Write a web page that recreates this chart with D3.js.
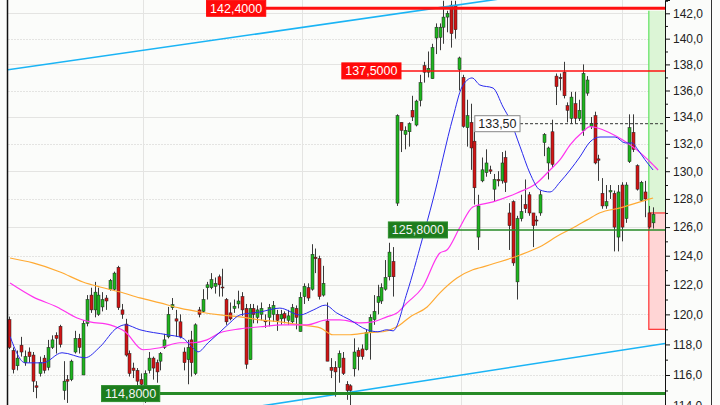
<!DOCTYPE html>
<html><head><meta charset="utf-8">
<script src="https://cdn.jsdelivr.net/npm/d3@7"></script>
<style>html,body{margin:0;padding:0;background:#fbfcfa;} svg{display:block;}</style>
</head><body><svg id="c" width="720" height="405"></svg>
<script>
// ---- data (price values) ----
const opens = [119.65,117.6,116.6,117.95,116.8,117.5,117.3,115.3,116.1,117.1,116.5,117.8,118.6,119.2,115.0,115.7,115.7,117.5,118.4,116.0,119.4,121.3,120.3,120.0,120.5,121.1,121.7,121.7,123.2,120.3,119.35,117.4,116.45,116.3,115.7,115.3,116.3,117.1,116.8,116.9,117.8,118.5,120.45,119.7,119.5,117.5,117.0,118.3,116.1,120.3,120.2,121.8,121.8,121.9,122.55,121.85,121.0,120.1,120.4,120.7,
121.2,120.4,117.0,120.4,119.8,120.0,119.6,119.8,120.0,120.0,119.7,120.05,119.6,119.5,120.4,118.85,121.2,121.8,121.7,123.9,123.8,121.3,119.55,116.5,116.5,116.5,117.1,115.4,115.3,116.4,117.6,117.7,117.65,118.8,119.65,120.8,120.9,121.7,122.55,123.6,
127.7,133.6,132.7,132.9,134.5,133.4,135.25,137.9,137.4,136.9,140.05,140.1,140.9,141.7,142.65,142.65,137.6,
137.0,133.2,133.6,132.2,125.3,
129.3,129.9,130.1,128.7,129.4,129.3,131.0,127.0,127.8,122.2,126.6,127.6,128.3,127.0,126.5,127.0,
132.1,130.6,132.9,137.1,137.0,137.4,134.85,133.9,135.0,133.9,133.0,135.8,133.3,134.1,130.9,128.4,127.5,128.5,128.4,125.3,129.0,126.6,130.7,132.85,130.4,127.9,128.5,127.0,126.3];
const highs = [119.85,117.8,117.6,118.5,117.6,117.8,117.5,115.6,117.2,117.3,118.3,118.6,118.8,119.3,116.9,116.0,117.0,118.9,118.7,119.6,121.3,121.8,122.2,121.8,121.5,121.3,122.4,122.9,123.3,120.7,119.7,117.6,116.8,116.45,116.1,116.3,117.5,117.2,117.0,117.5,118.7,120.5,121.1,120.3,120.0,117.8,118.3,118.9,119.4,120.5,121.7,122.2,122.8,122.5,122.7,123.1,121.1,120.8,121.0,121.6,
121.5,120.7,120.7,120.7,120.6,120.8,120.0,120.7,120.9,120.3,120.3,120.2,120.3,120.7,120.6,121.5,122.1,122.1,124.8,124.5,124.0,123.3,120.8,117.1,116.9,117.6,117.5,115.6,115.4,118.4,117.8,118.0,119.0,120.0,121.3,122.0,122.1,123.7,124.9,124.6,
134.2,133.6,133.3,133.6,135.6,135.3,137.2,138.2,139.0,139.6,141.2,141.2,143.0,142.2,143.0,143.0,138.6,
137.2,135.3,135.0,132.9,128.3,
131.0,131.6,130.4,129.8,130.0,131.4,131.5,127.7,127.9,126.8,128.3,129.4,128.5,127.0,126.8,128.6,
132.8,131.8,133.8,137.3,137.3,138.2,135.1,135.9,135.9,135.3,138.0,137.1,134.0,134.4,131.2,129.5,129.0,129.0,128.6,129.0,129.2,129.2,134.2,134.2,130.5,129.3,129.3,127.5,127.4];
const lows = [117.7,116.1,116.3,117.2,116.6,116.8,114.9,114.5,115.9,116.1,116.3,117.7,117.4,117.8,114.4,114.2,115.6,117.4,117.4,116.0,119.2,120.1,119.8,119.9,120.2,120.3,121.6,121.6,120.3,119.7,117.2,115.9,115.8,115.0,115.3,114.2,116.1,115.7,115.5,116.3,117.7,118.4,120.3,118.5,118.4,116.3,115.4,115.9,116.0,119.8,120.1,121.0,121.7,121.4,121.2,121.2,119.3,119.6,120.1,120.4,
119.9,116.4,117.0,119.4,119.4,119.6,119.1,119.2,119.5,118.9,119.3,119.4,119.3,119.4,119.0,118.85,120.7,120.9,121.6,122.8,121.0,121.2,116.9,115.8,114.6,115.5,116.0,114.4,114.0,115.9,116.3,117.0,117.6,117.0,119.3,120.0,120.7,121.6,122.3,121.2,
127.5,131.4,131.6,131.8,133.7,133.3,134.8,136.6,137.0,136.9,138.8,139.1,139.6,140.5,139.3,140.0,136.0,
133.2,131.8,130.1,127.6,124.4,
129.2,129.6,129.8,127.8,128.9,129.1,128.5,124.4,123.3,121.0,126.4,127.0,126.8,124.6,126.1,126.8,
131.1,129.4,130.3,134.9,136.0,135.4,133.6,133.5,133.5,133.7,132.6,135.6,133.1,130.5,129.3,127.3,127.3,128.0,124.3,124.3,125.0,126.3,130.6,131.4,128.6,127.8,126.7,125.9,125.9];
const closes = [117.8,116.35,117.1,117.5,117.2,117.2,115.6,115.2,116.8,116.3,117.8,118.3,118.4,118.0,115.6,115.6,116.9,118.4,117.8,119.4,121.0,120.3,121.5,121.3,121.0,120.9,122.3,122.8,120.45,120.0,117.3,116.1,116.3,115.6,115.4,116.1,117.1,116.45,116.2,117.4,118.3,120.0,120.65,119.55,118.5,116.8,117.8,116.8,119.3,120.0,121.0,122.0,122.35,122.1,122.0,121.8,119.5,119.7,120.55,120.9,
120.3,116.7,120.4,120.0,120.3,120.4,119.5,120.45,120.6,119.6,120.0,119.75,119.9,120.45,119.8,121.15,121.9,121.1,124.1,123.8,121.2,122.1,116.9,116.3,116.2,117.4,116.1,115.0,115.0,117.5,117.2,117.2,118.8,119.8,120.2,121.2,121.8,122.5,124.25,122.55,
134.1,133.0,133.0,133.5,134.0,135.2,136.6,137.4,137.7,139.3,140.9,140.9,141.7,142.0,140.4,140.7,138.5,
133.3,134.1,131.7,128.8,127.5,
130.1,130.6,130.0,129.4,129.3,130.6,129.2,126.1,123.5,126.6,127.1,127.3,127.0,126.1,126.45,128.3,
132.7,131.7,130.5,136.3,136.9,135.6,134.5,135.5,133.9,134.5,137.3,136.8,133.5,130.6,130.8,127.5,127.8,128.6,126.0,128.5,126.0,129.0,133.2,131.6,128.7,129.2,128.0,126.0,126.9];

// moving averages: [bar index, value]
const maFast = [[0.2,118.52],[4.1,116.79],[8.7,116.79],[13.6,117.45],[19.5,117.12],[23.4,117.84],[27.8,119.10],[29.9,119.30],[33.7,118.97],[40.7,118.64],[44.6,118.44],[47.1,117.84],[48.7,117.51],[51.3,118.11],[54.4,118.83],[56.9,119.43],[59.5,119.96],[64.7,120.16],[69.8,120.42],[75.0,119.96],[78.4,120.29],[81.5,120.62],[84.5,120.09],[87.9,119.63],[92.3,118.97],[95.1,118.84],[97.4,118.97],[99.0,118.90],[102.6,121.45],[106.5,125.10],[109.3,127.93],[114.5,134.0],[116.8,136.27],[119.4,136.96],[121.4,136.42],[124.8,136.19],[127.4,134.75],[129.2,133.78],[131.8,131.78],[134.3,129.87],[136.9,128.65],[139.5,128.5],[142.1,129.22],[144.7,130.09],[147.2,131.04],[149.8,132.14],[152.4,132.51],[156.3,132.51],[158.9,132.07],[160.7,132.07],[162.2,131.56],[164.0,130.84],[166.1,130.09]];
const maMid = [[0.2,122.12],[6.1,121.18],[12.3,120.50],[17.5,119.76],[20.8,119.50],[26.0,119.30],[29.9,118.84],[34.5,117.65],[38.9,117.78],[44.0,118.11],[47.4,118.11],[51.0,118.30],[54.4,118.77],[59.5,119.03],[64.7,119.17],[70.6,119.30],[76.8,119.30],[82.0,119.63],[85.3,119.63],[90.5,119.43],[93.8,119.50],[97.4,119.83],[100.0,120.09],[102.6,120.77],[106.5,121.78],[111.1,124.19],[112.9,124.40],[116.3,126.01],[119.6,127.43],[124.8,127.79],[131.0,128.43],[136.1,129.15],[139.5,130.09],[142.1,130.84],[144.7,131.93],[148.0,132.90],[149.8,133.28],[151.6,133.20],[155.0,132.81],[158.3,132.29],[161.9,131.56],[165.3,130.69],[167.4,130.09]];
const maSlow = [[0.2,123.84],[6.1,123.5],[13.1,122.88],[19.0,122.19],[23.4,121.85],[28.6,121.51],[33.7,121.11],[38.9,120.77],[44.0,120.42],[49.2,120.16],[54.4,119.96],[59.5,119.83],[64.7,119.63],[69.8,119.50],[75.0,119.30],[80.2,119.10],[83.5,118.64],[87.9,118.64],[92.3,118.77],[96.4,118.84],[100.0,119.17],[103.4,119.83],[107.8,120.50],[111.1,121.45],[115.5,122.46],[119.6,123.03],[121.4,123.17],[126.6,123.58],[131.8,124.05],[136.9,124.62],[142.1,125.48],[145.4,125.94],[149.1,126.51],[152.4,127.01],[157.6,127.36],[161.9,127.72],[166.1,128.07]];

const resistanceLevels = [142.4, 137.5];
const supportLevels = [125.8, 114.8];
const markerLevel = 133.5;
const trendUpper = [[0,137.6],[121,142.9]];
const trendLower = [[70,114.2],[160,117.7]];
const tradeEntry = 127.0, tradeTarget = 142.2, tradeStop = 119.0, tradeStartBar = 165.0;
const gridBars = [34.4, 75.5, 116.5, 158.1];
const axisMajorTicks = [114,116,118,120,122,124,126,128,130,132,134,136,138,140,142];
const axisMinorTicks = [115,117,119,121,123,125,127,129,131,133,135,137,139,141,143];

// ---- drawing ----
const W = 720, H = 405, L = 8, R = 665, T = 0, B = 405;
const svg = d3.select('#c');
const x = d3.scaleLinear().domain([0, closes.length - 1]).range([9.3, 652.7]);
const y = d3.scaleLog().domain([114.07, 143.06]).range([B, T]);
const loc = d3.formatLocale({decimal: ',', thousands: '.', grouping: [3], currency: ['', '']});
const f1 = loc.format('.1f'), f2 = loc.format('.2f'), f4 = loc.format('.4f');

svg.append('rect').attr('width', W).attr('height', H).attr('fill', '#fbfcfa');
svg.append('defs').append('clipPath').attr('id', 'plot')
  .append('rect').attr('x', L).attr('y', T).attr('width', R - L).attr('height', B - T);

const plot = svg.append('g').attr('clip-path', 'url(#plot)');

// grid
plot.selectAll('.hg').data(axisMajorTicks).join('line')
  .attr('x1', L).attr('x2', R)
  .attr('y1', d => Math.round(y(d)) + 0.5).attr('y2', d => Math.round(y(d)) + 0.5)
  .attr('stroke', '#e4e4e2').attr('stroke-width', 1)
  .attr('stroke-dasharray', d => (d % 4 === 2) ? null : '2,1');
plot.selectAll('.vg').data(gridBars).join('line')
  .attr('x1', d => Math.round(x(d)) + 0.5).attr('x2', d => Math.round(x(d)) + 0.5)
  .attr('y1', T).attr('y2', B).attr('stroke', '#e4e4e2');

// trade box
const bx0 = x(tradeStartBar);
plot.append('rect').attr('x', bx0).attr('y', y(tradeTarget)).attr('width', R - bx0)
  .attr('height', y(tradeEntry) - y(tradeTarget)).attr('fill', '#dcf5d6');
plot.append('line').attr('x1', bx0).attr('x2', bx0).attr('y1', y(tradeTarget)).attr('y2', y(tradeEntry))
  .attr('stroke', '#5ee35e').attr('stroke-width', 1.2);
plot.append('rect').attr('x', bx0).attr('y', y(tradeEntry)).attr('width', R - bx0 + 2)
  .attr('height', y(tradeStop) - y(tradeEntry)).attr('fill', '#ffd5d5')
  .attr('stroke', '#ff3030').attr('stroke-width', 1.2);

// candles
const bars = plot.append('g');
closes.forEach((c, i) => {
  const o = opens[i], h = highs[i], l = lows[i];
  const cx = Math.round(x(i));
  bars.append('line').attr('x1', cx + 0.5).attr('x2', cx + 0.5)
    .attr('y1', y(h)).attr('y2', y(l)).attr('stroke', '#3a3a3a').attr('stroke-width', 1);
  const top = y(Math.max(o, c)), bot = y(Math.min(o, c));
  bars.append('rect').attr('x', cx - 1).attr('width', 3)
    .attr('y', top).attr('height', Math.max(1, bot - top))
    .attr('fill', c >= o ? '#1fb51f' : '#d01515')
    .attr('stroke', '#222').attr('stroke-width', 0.5);
});

// moving averages
const ln = d3.line().x(d => x(d[0])).y(d => y(d[1])).curve(d3.curveMonotoneX);
plot.append('path').attr('d', ln(maSlow)).attr('fill', 'none').attr('stroke', '#ffaa33').attr('stroke-width', 1.2);
plot.append('path').attr('d', ln(maMid)).attr('fill', 'none').attr('stroke', '#ff33ee').attr('stroke-width', 1.2);
plot.append('path').attr('d', ln(maFast)).attr('fill', 'none').attr('stroke', '#2a2aee').attr('stroke-width', 1);

// trend lines (extended)
function trend(pts) {
  const [a, b] = pts;
  const xa = x(a[0]), ya = y(a[1]), xb = x(b[0]), yb = y(b[1]);
  const k = (yb - ya) / (xb - xa);
  return {x1: L, y1: ya + k * (L - xa), x2: R, y2: ya + k * (R - xa)};
}
[trendUpper, trendLower].forEach(p => {
  const t = trend(p);
  plot.append('line').attr('x1', t.x1).attr('y1', t.y1).attr('x2', t.x2).attr('y2', t.y2)
    .attr('stroke', '#1ab4f5').attr('stroke-width', 1.6);
});

// level lines + labels
const labelAt = {142.4: 50.9, 137.5: 85.8, 125.8: 97.8, 114.8: 23.8};
const lineW = {142.4: 3, 137.5: 1.5, 125.8: 1.5, 114.8: 3};
const annot = svg.append('g');
function levelLabel(v, bg, fg, border, txt, lw, lineColor, dash) {
  const lx = x(labelAt[v] !== undefined ? labelAt[v] : 0);
  const yy = y(v);
  const t = annot.append('text').attr('font-family', 'Liberation Sans, Arial, sans-serif')
    .attr('font-size', 12.5).attr('fill', fg).attr('dominant-baseline', 'central').text(txt);
  const tw = t.node().getComputedTextLength();
  const bw = tw + 7;
  plot.append('line').attr('x1', lx + bw).attr('x2', R).attr('y1', yy).attr('y2', yy)
    .attr('stroke', lineColor).attr('stroke-width', lw).attr('stroke-dasharray', dash);
  annot.insert('rect', 'text').attr('x', lx).attr('y', yy - 8).attr('width', bw).attr('height', 16)
    .attr('fill', bg).attr('stroke', border).attr('stroke-width', 1);
  t.attr('x', lx + 3.5).attr('y', yy + 0.5);
  t.raise();
}
resistanceLevels.forEach(v => levelLabel(v, '#ff0a0a', '#ffffff', '#ff0a0a', f4(v), lineW[v], '#ff1010', null));
supportLevels.forEach(v => levelLabel(v, '#1d7d1d', '#f4f4f4', '#2f8f2f', f4(v), lineW[v], '#268a26', null));
labelAt[markerLevel] = 120.1;
levelLabel(markerLevel, '#ffffff', '#222', '#888', f2(markerLevel), 1, '#333', '3,2');

// frame
svg.append('line').attr('x1', 7.5).attr('x2', 7.5).attr('y1', 0).attr('y2', H).attr('stroke', '#111').attr('stroke-width', 1.5);
svg.append('line').attr('x1', 711.5).attr('x2', 711.5).attr('y1', 0).attr('y2', H).attr('stroke', '#333').attr('stroke-width', 1);

// right axis
const ax = svg.append('g').attr('transform', `translate(${R},0)`)
  .call(d3.axisRight(y).tickValues(axisMajorTicks).tickSize(5).tickPadding(3).tickFormat(f1));
ax.select('.domain').attr('stroke', '#111');
ax.selectAll('.tick line').attr('stroke', '#111');
ax.selectAll('text').attr('font-family', 'Liberation Sans, Arial, sans-serif').attr('font-size', 12).attr('fill', '#222');
const axm = svg.append('g').attr('transform', `translate(${R},0)`)
  .call(d3.axisRight(y).tickValues(axisMinorTicks).tickSize(3).tickFormat(''));
axm.select('.domain').remove();
axm.selectAll('.tick line').attr('stroke', '#111');
</script>
</body></html>
